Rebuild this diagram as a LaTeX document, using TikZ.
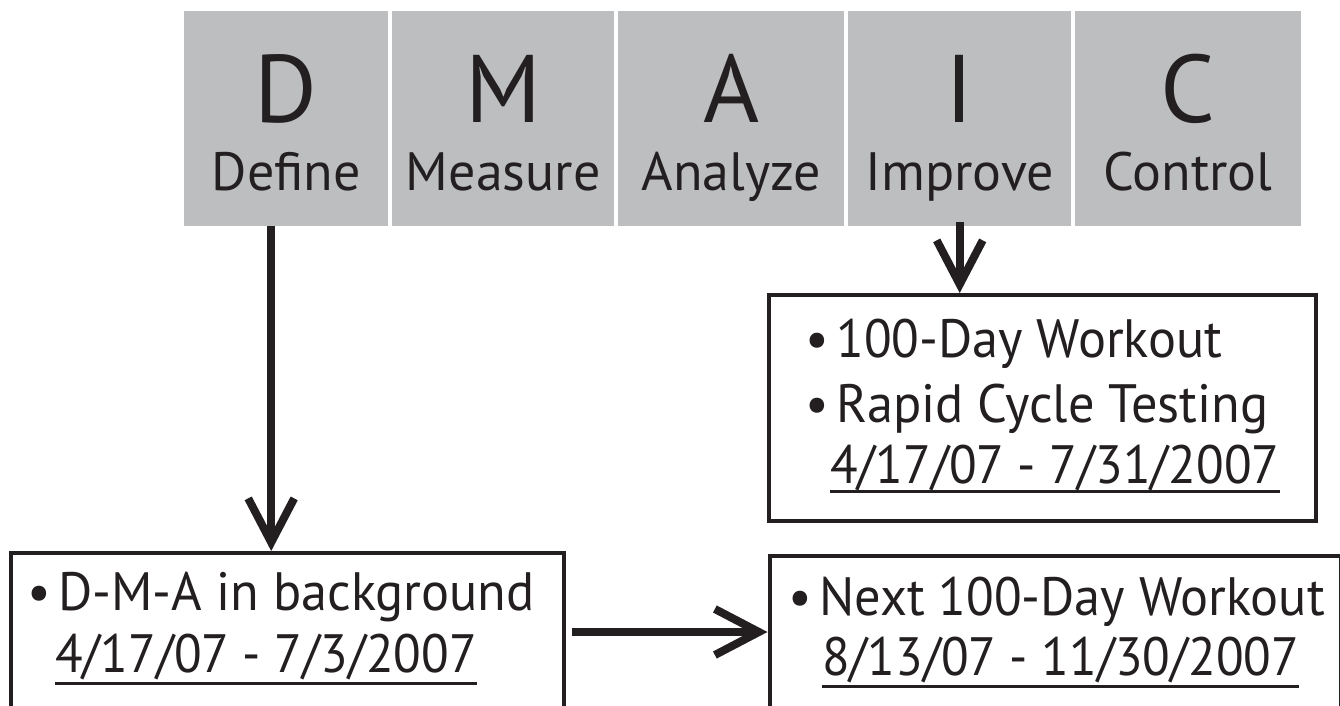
\documentclass[tikz,border=0pt]{standalone}
\usepackage{fontspec}
\setmainfont{PT Sans}
\newfontfamily\itemfont[FakeStretch=0.97]{PT Sans}
\newfontfamily\datefont[FakeStretch=0.94]{PT Sans}
\usetikzlibrary{arrows.meta,calc}
\definecolor{ink}{RGB}{35,31,32}
\definecolor{panel}{RGB}{188,190,192}
\newcommand{\itembullet}{\textbullet\hspace{0.14em}}

\begin{document}
\begin{tikzpicture}[x=1pt,y=-1pt,
  phase/.style={fill=panel, draw=none, inner sep=0pt, anchor=north west,
                minimum height=215pt, minimum width=#1},
  bigletter/.style={font=\fontsize{96}{96}\selectfont, text=ink, anchor=base, inner sep=0pt},
  word/.style={font=\fontsize{54}{54}\selectfont, text=ink, anchor=base, inner sep=0pt},
  frame/.style={draw=ink, line width=4pt, fill=none, inner sep=0pt, anchor=north west,
                minimum width=#1, minimum height=220pt},
  item/.style={font=\itemfont\fontsize{54}{54}\selectfont, text=ink, anchor=base west, inner sep=0pt},
  date/.style={font=\datefont\fontsize{54}{54}\selectfont, text=ink, anchor=base west, inner sep=0pt},
  uline/.style={draw=ink, line width=3pt},
  arr/.style={draw=ink, line width=8pt, -{Straight Barb[length=44pt, width=46pt]}},
]
\useasboundingbox (0,0) rectangle (1340,706);
\clip (0,0) rectangle (1340,706);

% DMAIC phase bar
\node[phase=204pt] (dBox) at (184,11) {};
\node[phase=222pt] (mBox) at (392,11) {};
\node[phase=226pt] (aBox) at (618,11) {};
\node[phase=223pt] (iBox) at (848,11) {};
\node[phase=226pt] (cBox) at (1075,11) {};

\foreach \b/\l/\w in {dBox/D/Define, mBox/M/Measure, aBox/A/Analyze, iBox/I/Improve, cBox/C/Control}{
  \node[bigletter] (\b-letter) at ($(\b.north)+(0,111)$) {\l};
  \node[word] (\b-word) at ($(\b.north)+(0,179)$) {\w};
}

% boxes below the bar
\node[frame=553pt] (dmaBox) at (9,551) {};
\node[frame=547pt, minimum height=226pt] (impBox) at (767,293) {};
\node[frame=571pt] (nextBox) at (767.5,553.5) {};

% background phase box
\node[item] (dmaItem) at (27,610) {\itembullet D-M-A in background};
\node[date] (dmaDate) at (55,672) {4/17/07 - 7/3/2007};
\draw[uline] ($(dmaDate.base west)+(0,11)$) -- ($(dmaDate.base east)+(0,11)$);

% improve phase box
\node[item] (impItemA) at (805,357) {\itembullet{\datefont 100}-Day Workout};
\node[item] (impItemB) at (805,422) {\itembullet Rapid Cycle Testing};
\node[date] (impDate) at (830,483) {4/17/07 - 7/31/2007};
\draw[uline] ($(impDate.base west)+(0,8)$) -- ($(impDate.base east)+(0,8)$);

% next workout box
\node[item] (nextItem) at (788,615) {\itembullet Next {\datefont 100}-Day Workout};
\node[date] (nextDate) at (822,675) {8/13/07 - 11/30/2007};
\draw[uline] ($(nextDate.base west)+(0,11)$) -- ($(nextDate.base east)+(0,11)$);

% connectors
\draw[arr] ([xshift=-15pt]dBox.south) -- ([xshift=-15pt]dBox.south |- dmaBox.north);
\draw[arr] ([yshift=4pt]iBox.south) -- (iBox.south |- impBox.north);
\coordinate (hStart) at ($(dmaBox.north east)+(6,81)$);
\draw[arr] (hStart) -- (hStart -| nextBox.west);
\end{tikzpicture}
\end{document}
